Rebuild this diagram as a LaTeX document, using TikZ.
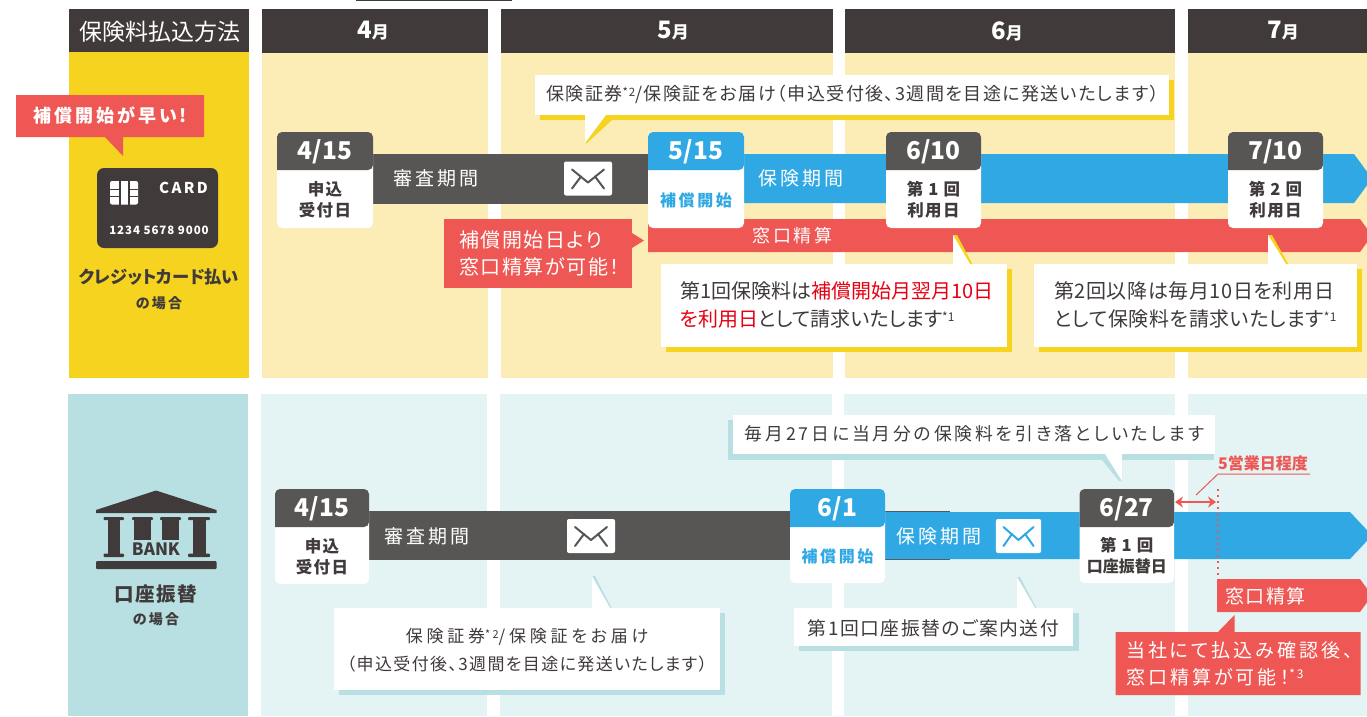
\documentclass[tikz,border=0pt]{standalone}
\usetikzlibrary{arrows.meta}
\usepackage{fontspec}
\setmainfont{Noto Sans CJK JP}[RawFeature=+palt]
\newfontfamily\jp{Noto Sans CJK JP}[RawFeature=+palt]
\newfontfamily\jps{Noto Sans CJK JP}[RawFeature=+palt,LetterSpace=3]
\newfontfamily\jpt{Noto Sans CJK JP}[RawFeature=+palt,LetterSpace=8]
\newfontfamily\jpw{Noto Sans CJK JP}[RawFeature=+palt,LetterSpace=16]
\newfontfamily\jpx{Noto Sans CJK JP}[RawFeature=+palt,LetterSpace=22]
\definecolor{dk}{HTML}{403B3A}
\definecolor{gy}{HTML}{575654}
\definecolor{yl}{HTML}{F6D31F}
\definecolor{ply}{HTML}{FBEDB5}
\definecolor{bl}{HTML}{2FA8E3}
\definecolor{rd}{HTML}{EE5753}
\definecolor{tl}{HTML}{B8E0E2}
\definecolor{ptl}{HTML}{E4F3F4}
\definecolor{hot}{HTML}{E60012}
\newcommand\fs[1]{\fontsize{#1}{#1}\selectfont}
\newcommand\fsl[2]{\fontsize{#1}{#2}\selectfont}
\tikzset{
  lab/.style={inner sep=0pt,outer sep=0pt,anchor=center},
  labl/.style={inner sep=0pt,outer sep=0pt,anchor=west,align=left},
  mon/.style={lab,text=white,font=\bfseries\fs{24}},
  dt/.style={lab,text=white,font=\bfseries\fs{24.5}},
  sub/.style={lab,text=dk,align=center,font=\bfseries\jpt\fsl{16.5}{21}},
  wt/.style={lab,text=white,font=\jpw\fs{19}},
  tx/.style={lab,text=dk}
}
% name x1 x2 ytop ymid ybot headcolor date(label) sublabel
\newcommand\datebox[9]{%
  \fill[white,rounded corners=5] (#2,#4) rectangle (#3,#6);
  \fill[#7,rounded corners=5] (#2,#5) -- (#2,#4) -- (#3,#4) -- (#3,#5) [sharp corners] -- cycle;
  \node[dt] (#1d) at ({(#2+#3)/2},{(#4+#5)/2+0.5}) {#8};
  \node[sub] (#1s) at ({(#2+#3)/2},{(#5+#6)/2+1}) {#9};
}
% cx cy bg line xscale
\newcommand\envelope[5]{%
  \begin{scope}[shift={(#1,#2)},xscale=#5]
    \fill[#3,rounded corners=2] (-24,-17) rectangle (24,17);
    \draw[#4,line width=2,line cap=round,line join=round] (-16,-9) -- (0,4) -- (16,-9);
    \draw[#4,line width=2,line cap=round] (-16,10) -- (-7,-2);
    \draw[#4,line width=2,line cap=round] (16,10) -- (7,-2);
  \end{scope}}
\begin{document}
\begin{tikzpicture}[x=1pt,y=-1pt]
\useasboundingbox (0,0) rectangle (1367,716);
\clip (0,0) rectangle (1367,716);
\fill[white] (0,0) rectangle (1367,716);
\draw[dk,line width=1.5] (356,0) -- (512,0);
% --- headers
\fill[dk] (69,9) rectangle (249,52);
\node[lab,text=white,font=\jp\fs{23}] (hpay) at (159.5,32) {保険料払込方法};
\foreach \a/\b/\c/\t in {262/488/373/4,501/833/673/5,845/1175/1007/6,1188/1367/1283/7}{
  \fill[dk] (\a,9) rectangle (\b,53);
  \node[mon] at (\c,31) {\t{\fs{17}月}};
}
% --- top row background
\fill[yl] (69,52) rectangle (249,378);
\foreach \a/\b in {262/488,501/833,845/1175,1188/1367}{\fill[ply] (\a,53) rectangle (\b,378);}
% --- bottom row background
\fill[tl] (68,394) rectangle (248,716);
\foreach \a/\b in {261/487,500/832,844/1175,1188/1367}{\fill[ptl] (\a,394) rectangle (\b,716);}

% --- red callout top left
\fill[rd] (16,95) -- (204,95) -- (204,137) -- (123,137) -- (123,156) -- (105,137) -- (16,137) -- cycle;
\node[lab,text=white,font=\bfseries\jpw\fs{18}] (early) at (110.5,115) {補償開始が早い!};
% card
\fill[dk,rounded corners=7] (97,168) rectangle (218,248);
\fill[white,rounded corners=2] (110,181) rectangle (138,204.5);
\fill[dk] (119,181) rectangle (121,204.5);
\fill[dk] (128,181) rectangle (129.5,204.5);
\fill[dk] (110,188.5) rectangle (119,189.5);
\fill[dk] (110,196) rectangle (119,197);
\fill[dk] (129.5,188.5) rectangle (138,189.5);
\fill[dk] (129.5,196) rectangle (138,197);
\node[lab,text=white,font=\bfseries\jpw\fs{15}] (card) at (183.5,188) {CARD};
\node[lab,text=white,font=\bfseries\jpt\fs{11.5}] (cnum) at (159,230) {1234 5678 9000};
\node[tx,font=\bfseries\fs{17.3}] (credit) at (159,277) {クレジットカード払い};
\node[tx,font=\bfseries\jpw\fs{14}] (case1) at (159,303) {の場合};

% --- top row bands
\fill[gy] (373,154) rectangle (648,204);
\fill[bl] (744,154) -- (1354,154) -- (1372,178.5) -- (1354,203) -- (744,203) -- cycle;
\fill[rd] (648,219) -- (1360,219) -- (1372,235.5) -- (1360,252) -- (648,252) -- cycle;
\node[wt] (rev1) at (436,178) {審査期間};
\envelope{588}{178.5}{white}{gy}{1}
\node[wt] (ins1) at (801,178) {保険期間};
\node[lab,text=white,font=\jpw\fs{18}] (win1) at (792.5,236) {窓口精算};

% date boxes top
\datebox{a}{277}{373}{132}{170}{228}{gy}{4/15}{申込\\受付日}
\datebox{b}{648}{744}{132}{170}{228}{bl}{5/15}{\textcolor{bl}{\jpw\fs{16}補償開始}}
\datebox{c}{886}{981}{132}{170}{228}{gy}{6/10}{第 1 回\\利用日}
\datebox{d}{1228}{1323}{132}{170}{228}{gy}{7/10}{第 2 回\\利用日}

% top callout
\fill[yl] (540,80) rectangle (1174,120);
\fill[yl] (585,143) -- (587,143) -- (612,120) -- (585,120) -- cycle;
\fill[white] (535,75) rectangle (1169,115);
\fill[white] (585,143) -- (606,115) -- (585,115) -- cycle;
\node[tx,font=\jpt\fs{18}] (send1) at (852.5,94) {保険証券{\fs{11.5}\raisebox{4pt}{*2}}/保険証をお届け（申込受付後、3週間を目途に発送いたします）};

% red note
\fill[rd] (444,219) rectangle (632,288);
\fill[rd] (632,233) -- (644,240.5) -- (632,248) -- cycle;
\node[labl,text=white,font=\jpt\fsl{20}{27}] (note1) at (459,253.5) {補償開始日より\\窓口精算が可能！};

% yellow callouts
\fill[yl] (666,269) rectangle (1012,352);
\fill[yl] (953,235) -- (957,235) -- (975,269) -- (953,269) -- cycle;
\fill[white] (661,264) rectangle (1007,347);
\fill[white] (953,235) -- (970,264) -- (953,264) -- cycle;
\node[labl,text=dk,font=\jp\fsl{20}{28}] (pay1) at (680,305) {第1回保険料は\textcolor{hot}{補償開始月翌月10日}\\\textcolor{hot}{を利用日}として請求いたします{\fs{12}\raisebox{5pt}{*1}}};
\fill[yl] (1039,269) rectangle (1362,352);
\fill[yl] (1268,235) -- (1272,235) -- (1291,269) -- (1268,269) -- cycle;
\fill[white] (1034,264) rectangle (1357,347);
\fill[white] (1268,235) -- (1286,264) -- (1268,264) -- cycle;
\node[labl,text=dk,font=\jps\fsl{20}{28}] (pay2) at (1054,305) {第2回以降は毎月10日を利用日\\として保険料を請求いたします{\fs{12}\raisebox{5pt}{*1}}};

% --- bank icon
\fill[dk] (156,490.5) -- (216.5,510) -- (216.5,513) -- (96,513) -- (96,510) -- cycle;
\foreach \a/\b in {103.5/124,188/210}{
  \fill[dk,rounded corners=1] (\a,517) rectangle (\b,520);
  \fill[dk] ({\a+4.5},517) rectangle ({\b-4.5},557);
  \fill[dk,rounded corners=1] (\a,553.5) rectangle (\b,557);
}
\foreach \a/\b in {132/153,160/181}{
  \fill[dk,rounded corners=1] (\a,517) rectangle (\b,520);
  \fill[dk] ({\a+2},517) rectangle ({\b-2},540);
}
\node[lab,text=dk,font=\bfseries\fs{17}] (bank) at (156,549.5) {BANK};
\fill[dk,rounded corners=1] (96,561) rectangle (216.5,569);
\node[tx,font=\bfseries\jpt\fs{19.5}] (acct) at (156,594) {口座振替};
\node[tx,font=\bfseries\jpw\fs{14}] (case2) at (156,619) {の場合};

% --- bottom bands
\fill[gy] (369,511) rectangle (950,560);
\fill[bl] (885,512) -- (1350,512) -- (1372,535.5) -- (1350,559) -- (885,559) -- cycle;
\node[wt] (rev2) at (427,536) {審査期間};
\envelope{591}{536}{white}{gy}{1}
\node[wt] (ins2) at (939,536) {保険期間};
\envelope{1018.5}{536}{white}{bl}{0.94}

% date boxes bottom
\datebox{e}{275}{369}{489}{527}{584}{gy}{4/15}{申込\\受付日}
\datebox{f}{790}{885}{489}{527}{583}{bl}{6/1}{\textcolor{bl}{\jpw\fs{16}補償開始}}
\datebox{g}{1079.5}{1174}{489}{527}{583}{gy}{6/27}{第 1 回\\\jp\fs{16}口座振替日}

% monthly callout
\fill[tl] (728,420) rectangle (1214,460);
\fill[tl] (1102,460) -- (1119,481) -- (1122,481) -- (1122,454) -- (1102,454) -- cycle;
\fill[white] (733,415) rectangle (1215,454);
\fill[white] (1105,454) -- (1122,481) -- (1122,454) -- cycle;
\node[tx,font=\jpw\fs{17.8}] (mon27) at (974.5,434) {毎月27日に当月分の保険料を引き落としいたします};

% 5 business days
\node[lab,text=rd,font=\bfseries\fs{16}] (bd) at (1263,463) {5営業日程度};
\coordinate (ul) at (1218,474);
\coordinate (ur) at (1310,474);
\coordinate (ut) at (1196,495);
\draw[rd,line width=1] (ur) -- (ul) -- (ut);
\coordinate (dl) at (1175,502);
\coordinate (dr) at (1216,502);
\draw[rd,line width=2.2,{Stealth[length=8pt,width=11pt]}-{Stealth[length=8pt,width=11pt]}] (dl) -- (dr);
\coordinate (dt) at (1218,489);
\coordinate (db) at (1218,577);
\draw[rd,line width=1.5,dash pattern=on 2pt off 4pt] (dt) -- (db);

% red window band bottom
\fill[rd] (1217,579) -- (1360,579) -- (1372,595.5) -- (1360,612) -- (1217,612) -- cycle;
\node[lab,text=white,font=\jpt\fs{19}] (win2) at (1265.5,596) {窓口精算};
\fill[rd] (1115.5,632) -- (1218,632) -- (1234.5,615) -- (1234.5,632) -- (1360.5,632) -- (1360.5,695) -- (1115.5,695) -- cycle;
\node[labl,text=white,font=\jpw\fsl{19}{27}] (note2) at (1126,663.5) {当社にて払込み確認後、\\窓口精算が可能！{\fs{12}\raisebox{6pt}{*3}}};

% lower callouts
\fill[tl] (339,613) rectangle (725,695);
\fill[tl] (592,576) -- (595,576) -- (614,613) -- (592,613) -- cycle;
\fill[white] (333.5,608) rectangle (720,690);
\fill[white] (592,576) -- (610,608) -- (592,608) -- cycle;
\node[tx,align=center,font=\jpt\fsl{17}{28}] (send2) at (527,650) {\jpx 保険証券{\fs{11}\raisebox{4pt}{*2}}/保険証をお届け\\\jpt（申込受付後、3週間を目途に発送いたします）};

\fill[tl] (799,613) rectangle (1079,651);
\fill[tl] (1017,577) -- (1020,577) -- (1039,613) -- (1017,613) -- cycle;
\fill[white] (793.5,608) rectangle (1073,646);
\fill[white] (1017,577) -- (1035,608) -- (1017,608) -- cycle;
\node[tx,font=\jpt\fs{18.8}] (guide) at (933.5,628) {第1回口座振替のご案内送付};
\end{tikzpicture}
\end{document}
